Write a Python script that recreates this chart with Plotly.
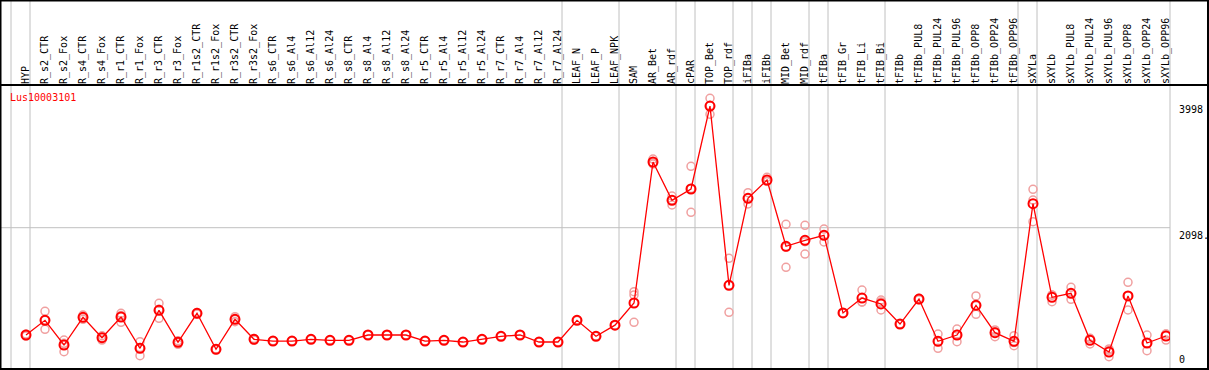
import plotly.graph_objects as go

categories = ["HYP", "R_s2_CTR", "R_s2_Fox", "R_s4_CTR", "R_s4_Fox", "R_r1_CTR", "R_r1_Fox",
              "R_r3_CTR", "R_r3_Fox", "R_r1s2_CTR", "R_r1s2_Fox", "R_r3s2_CTR", "R_r3s2_Fox",
              "R_s6_CTR", "R_s6_Al4", "R_s6_Al12", "R_s6_Al24", "R_s8_CTR", "R_s8_Al4", "R_s8_Al12",
              "R_s8_Al24", "R_r5_CTR", "R_r5_Al4", "R_r5_Al12", "R_r5_Al24", "R_r7_CTR", "R_r7_Al4",
              "R_r7_Al12", "R_r7_Al24", "LEAF_N", "LEAF_P", "LEAF_NPK", "SAM", "AR_Bet", "AR_rdf",
              "cPAR", "TOP_Bet", "TOP_rdf", "iFIBa", "iFIBb", "MID_Bet", "MID_rdf", "tFIBa",
              "tFIB_Gr", "tFIB_Li", "tFIB_Bi", "tFIBb", "tFIBb_PUL8", "tFIBb_PUL24", "tFIBb_PUL96",
              "tFIBb_OPP8", "tFIBb_OPP24", "tFIBb_OPP96", "sXYLa", "sXYLb", "sXYLb_PUL8",
              "sXYLb_PUL24", "sXYLb_PUL96", "sXYLb_OPP8", "sXYLb_OPP24", "sXYLb_OPP96"]

mean_vals = [476, 698, 325, 743, 435, 748, 275, 849, 365, 804, 260, 713,
             411, 385, 385, 411, 396, 396, 476, 476, 476, 385, 396, 370, 411, 456, 476, 370, 370,
             698, 456, 625, 960, 3091, 2512, 2683, 3937, 1227, 2542, 2819, 1817, 1907, 1983,
             809, 1035, 945, 642, 1020, 381, 476, 925, 511, 381,
             2461, 1046, 1106, 396, 219, 1066, 355, 461]

rep1 = [490, 834, 400, 778, 465, 804, 375, 955, 390, 815, 265, 753,
        425, 390, 385, 411, 396, 396, 476, 476, 476, 385, 396, 370, 411, 456, 476, 370, 370,
        698, 456, 625, 1131, 3136, 2577, 3026, 4054, 1635, 2627, 2860, 2149, 2134, 2078,
        809, 1156, 1005, 642, 1030, 491, 567, 1066, 552, 466,
        2678, 1081, 1197, 426, 265, 1273, 476, 491]

rep2 = [460, 562, 224, 713, 400, 668, 164, 728, 335, 795, 255, 677,
        400, 380, 385, 411, 396, 396, 476, 476, 476, 385, 396, 370, 411, 456, 476, 370, 370,
        698, 456, 625, 668, 3061, 2441, 2331, 3812, 819, 2456, 2800, 1499, 1700, 1882,
        809, 975, 854, 642, 1010, 275, 375, 789, 451, 315,
        2189, 979, 1016, 340, 148, 854, 239, 400]

rep3 = [478, 698, 351, 738, 440, 772, 286, 864, 370, 802, 260, 709,
        408, 385, 385, 411, 396, 396, 476, 476, 476, 385, 396, 370, 411, 456, 476, 370, 370,
        698, 456, 625, 1081, 3076, 2518, 2692, 3945, 1227, 2543, 2797, 1803, 1887, 1989,
        809, 974, 976, 642, 1020, 377, 486, 920, 530, 362,
        2516, 1078, 1105, 422, 244, 1071, 350, 492]

separator_before = ["HYP", "R_s2_CTR", "LEAF_N", "SAM", "cPAR", "TOP_Bet", "iFIBa", "iFIBb",
                    "MID_Bet", "tFIBa", "tFIB_Gr", "tFIBb", "sXYLa", "sXYLb"]

y_tick_vals = [3998, 2098, 0]
y_tick_text = ["3998", "2098.", "0"]
title_text = "Lus10003101"

# ---- geometry ----
W, H = 1209, 370
ML, MR, MT, MB = 1, 39, 85, 1
PW, PH = W - ML - MR, H - MT - MB
px_per_cat = 19.0
x0 = -25.0 / px_per_cat
x1 = x0 + PW / px_per_cat
px_per_unit = 0.06616
y0 = -2.5 / px_per_unit
y1 = y0 + PH / px_per_unit

def py2paper(py):
    return (H - MB - py) / PH

def px2paper(px):
    return (px - ML) / PW

idx = list(range(len(categories)))
FONT = "DejaVu Sans Mono"

fig = go.Figure()
for reps in (rep1, rep2, rep3):
    fig.add_trace(go.Scatter(x=idx, y=reps, mode="markers", hoverinfo="skip",
                             marker=dict(symbol="circle-open", size=8, color="rgb(240,160,160)",
                                         line=dict(width=1.5, color="rgb(240,160,160)"))))
fig.add_trace(go.Scatter(x=idx, y=mean_vals, mode="lines+markers", hoverinfo="skip",
                         line=dict(color="red", width=1.3),
                         marker=dict(symbol="circle-open", size=9, color="red",
                                     line=dict(width=2, color="red"))))

shapes = []
top_paper = py2paper(0)
for name in separator_before:
    xs = categories.index(name) - 15.0 / px_per_cat
    shapes.append(dict(type="line", xref="x", yref="paper", x0=xs, x1=xs, y0=0, y1=top_paper,
                       line=dict(color="rgb(192,192,192)", width=1), layer="below"))
# right-hand separator (plot edge)
shapes.append(dict(type="line", xref="paper", yref="paper", x0=1, x1=1, y0=0, y1=top_paper,
                   line=dict(color="rgb(192,192,192)", width=1), layer="below"))
# horizontal grid line at middle tick
shapes.append(dict(type="line", xref="paper", yref="y", x0=0, x1=1, y0=2098, y1=2098,
                   line=dict(color="rgb(192,192,192)", width=1), layer="below"))
# header divider line
shapes.append(dict(type="line", xref="paper", yref="paper", x0=px2paper(0), x1=px2paper(W),
                   y0=1, y1=1, line=dict(color="black", width=2)))
# outer frame
shapes.append(dict(type="rect", xref="paper", yref="paper",
                   x0=px2paper(0.5), x1=px2paper(W - 1), y0=py2paper(H - 1), y1=py2paper(0.5),
                   line=dict(color="black", width=2), fillcolor="rgba(0,0,0,0)"))

annotations = []
for v, t in zip(y_tick_vals, y_tick_text):
    annotations.append(dict(xref="paper", yref="y", x=1, y=v, text=t, showarrow=False,
                            xanchor="left", yanchor="bottom" if v == 0 else "top", xshift=7,
                            font=dict(family=FONT, size=10, color="black")))
annotations.append(dict(xref="paper", yref="paper", x=px2paper(8), y=py2paper(97), text=title_text,
                        showarrow=False, xanchor="left", yanchor="middle",
                        font=dict(family=FONT, size=10, color="red")))

fig.update_layout(
    width=W, height=H, margin=dict(l=ML, r=MR, t=MT, b=MB, pad=0),
    paper_bgcolor="white", plot_bgcolor="white", showlegend=False, hovermode=False,
    shapes=shapes, annotations=annotations,
    xaxis=dict(range=[x0, x1], side="top", tickmode="array", tickvals=idx, ticktext=categories,
               tickangle=-90, showgrid=False, zeroline=False, ticks="", showline=False,
               tickfont=dict(family=FONT, size=10, color="black")),
    yaxis=dict(range=[y0, y1], showgrid=False, zeroline=False, showticklabels=False, ticks="",
               showline=False),
)

fig.write_html("out.html", config={"displayModeBar": False},
               post_script="document.body.style.margin='0px';document.body.style.overflow='hidden';")
